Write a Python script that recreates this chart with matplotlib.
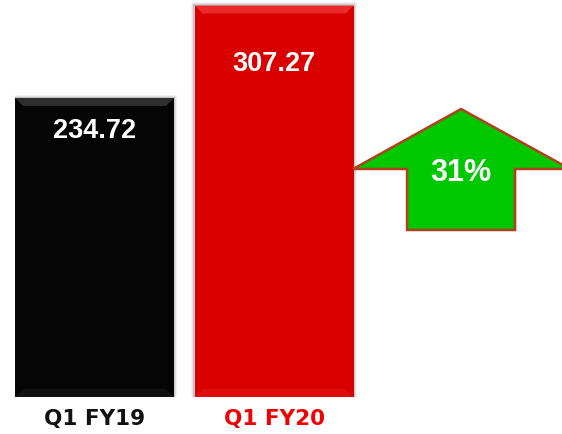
import matplotlib.pyplot as plt
from matplotlib.patches import Polygon, Rectangle

categories = ['Q1 FY19', 'Q1 FY20']
values = [234.72, 307.27]
bar_colors = ['#050505', '#d90000']
bevel_colors = ['#2e2e2e', '#ea2a2a']
label_colors = ['#111111', '#f00000']
growth = '31%'

fig = plt.figure(figsize=(5.62, 4.34), dpi=100)
ax = fig.add_axes([15 / 562, 37 / 434, 547 / 562, 397 / 434])
ax.set_xlim(-0.443, 2.604)
ax.set_ylim(0, 311.6)
ax.axis('off')

w = 0.886
xs = list(range(len(values)))
# soft shadow
for x, v in zip(xs, values):
    for k, a in [(3, 0.05), (2, 0.07), (1, 0.10)]:
        dx = k * 0.006
        dy = k * 0.8
        ax.add_patch(Rectangle((x - w / 2 - dx, -dy), w + 2 * dx, v + 2 * dy,
                               color='black', alpha=a, lw=0, zorder=1))
ax.bar(xs, values, width=w, color=bar_colors, zorder=2)

# bevels
bx, by = 0.045, 6.3
for x, v, c in zip(xs, values, bevel_colors):
    l, r = x - w / 2, x + w / 2
    ax.add_patch(Polygon([(l, v), (r, v), (r - bx, v - by), (l + bx, v - by)],
                         closed=True, color=c, lw=0, zorder=3))
    ax.add_patch(Polygon([(l, 0), (r, 0), (r - bx, by), (l + bx, by)],
                         closed=True, color=c, lw=0, alpha=0.3, zorder=3))

# value labels sit at different depths inside each bar
label_drop = [26, 46]
for x, v, d in zip(xs, values, label_drop):
    ax.text(x, v - d, f'{v:.2f}', ha='center', va='center', color='white',
            fontsize=19.5, fontweight='bold', family='Liberation Sans', zorder=4)

for x, lab, c in zip(xs, categories, label_colors):
    ax.text(x, -17, lab, ha='center', va='center', color=c, fontsize=15.5,
            fontweight='bold', family='DejaVu Sans', clip_on=False)

# growth arrow (pixel geometry converted to data units)
def px(xp, yp):
    return (-0.443 + (xp - 15) / 179.5, (397 - yp) / 1.274)

arrow = [px(461, 109), px(570, 169), px(515, 169), px(515, 230),
         px(407, 230), px(407, 169), px(353, 169)]
ax.add_patch(Polygon(arrow, closed=True, facecolor='#00c800',
                     edgecolor='#b0401e', lw=1.8, zorder=5, clip_on=True))
cx, cy = px(461, 173)
ax.text(cx, cy, growth, ha='center', va='center', color='white', fontsize=22,
        fontweight='bold', family='Liberation Sans', zorder=6)

fig.savefig('out.png', dpi=100)
